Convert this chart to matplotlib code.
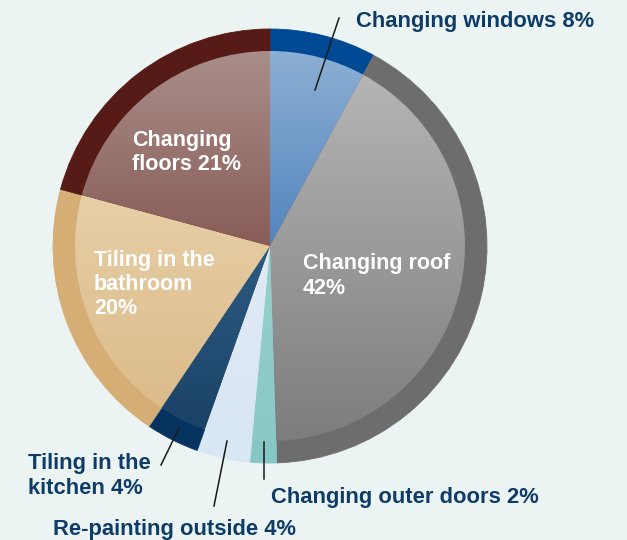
import numpy as np
import matplotlib.pyplot as plt
from matplotlib.colors import to_rgb

# shares of renovation work (percent)
labels = ["Changing windows", "Changing roof", "Changing outer doors", "Re-painting outside",
          "Tiling in the kitchen", "Tiling in the bathroom", "Changing floors"]
shares = [8, 42, 2, 4, 4, 20, 21]

# outer rim colour and inner gradient (top -> bottom) for each slice
ring_colors = ["#004a95", "#6d6d6d", "#86c6c4", "#d9e6f3", "#06325f", "#d4ae74", "#561b16"]
top_colors = ["#8db0d4", "#b5b5b5", "#96d0cd", "#e1ebf6", "#2d5b81", "#e7cfa8", "#a98e8a"]
bottom_colors = ["#5284bd", "#7d7d7d", "#8ac9c6", "#d8e5f3", "#1b4267", "#dcbb89", "#885c57"]

bg = "#ebf4f3"
navy = "#0e3c67"
font = "Liberation Sans"

fig = plt.figure(figsize=(6.27, 5.4), dpi=100, facecolor=bg)
ax = fig.add_axes([0, 0, 1, 1])
ax.set_facecolor(bg)

H = 540
cx, cy = 270, H - 246
r_out, r_in = 217, 195

outer, _ = ax.pie(shares, colors=ring_colors, radius=r_out, center=(cx, cy),
                  startangle=90, counterclock=False, wedgeprops=dict(linewidth=0.6))
for w, c in zip(outer, ring_colors):
    w.set_edgecolor(c)

inner, _ = ax.pie(shares, radius=r_in, center=(cx, cy), startangle=90,
                  counterclock=False, wedgeprops=dict(linewidth=0))

# vertical gradient inside each slice, clipped to the wedge
t = np.linspace(0, 1, 256)[:, None, None]
for w, c0, c1 in zip(inner, top_colors, bottom_colors):
    w.set_facecolor("none")
    bb = w.get_path().get_extents()
    grad = (1 - t) * np.array(to_rgb(c0)) + t * np.array(to_rgb(c1))
    im = ax.imshow(grad, extent=(bb.x0 - 1, bb.x1 + 1, bb.y0 - 1, bb.y1 + 1), origin="upper",
                   aspect="auto", interpolation="bilinear", zorder=2)
    im.set_clip_path(w)

# leader lines for the outside labels
leaders = [((315, 90), (339, 18)),
           ((179, 428), (161, 465)),
           ((227, 441), (214, 506)),
           ((264, 442), (264, 479))]
for (x0, y0), (x1, y1) in leaders:
    ax.plot([x0, x1], [H - y0, H - y1], color="#1a1a1a", lw=1.1, zorder=3)

# labels inside the pie (baseline of the last line given)
inside = dict(color="white", fontsize=15.5, family=font, weight="bold",
              ha="left", va="baseline", linespacing=1.21, zorder=4)
ax.text(132, H - 170.5, "Changing\nfloors 21%", **inside)
ax.text(303, H - 293.5, "Changing roof\n42%", **inside)
ax.text(94, H - 314.5, "Tiling in the\nbathroom\n20%", **inside)

# labels outside the pie
outside = dict(color=navy, fontsize=15.8, family=font, weight="bold",
               ha="left", va="baseline", linespacing=1.3, zorder=4)
ax.text(356, H - 27.5, "Changing windows 8%", **outside)
ax.text(28, H - 494.5, "Tiling in the\nkitchen 4%", **outside)
ax.text(271, H - 502.5, "Changing outer doors 2%", **outside)
ax.text(53, H - 535.5, "Re-painting outside 4%", **outside)

ax.set_xlim(0, 627)
ax.set_ylim(0, H)
ax.set_aspect("equal")
ax.axis("off")

fig.savefig("out.png", dpi=100, facecolor=bg)
